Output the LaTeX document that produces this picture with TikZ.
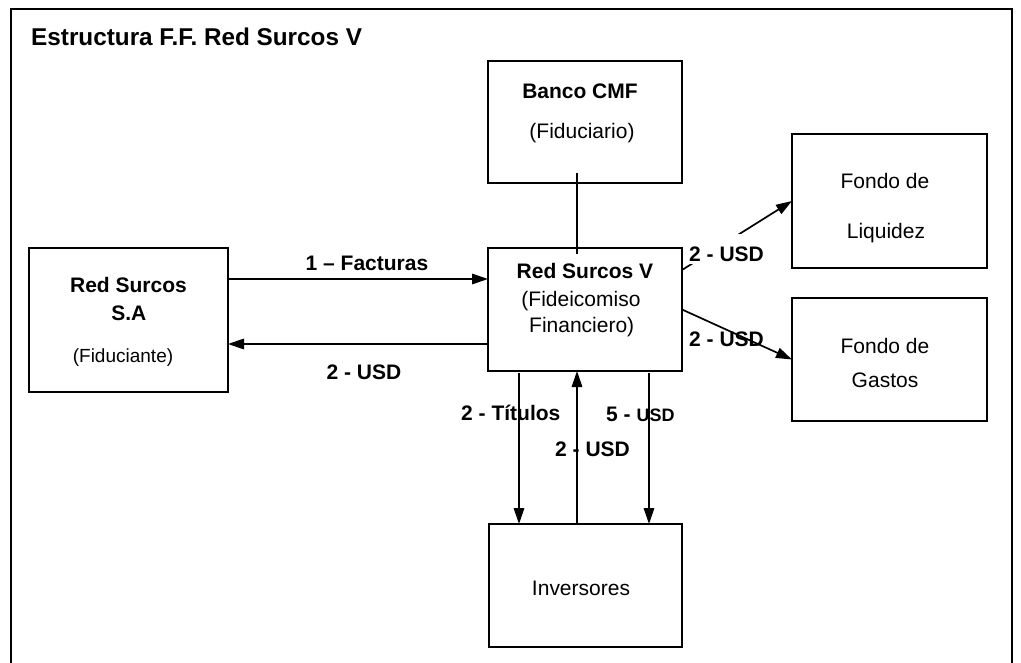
\documentclass[tikz,border=0pt]{standalone}
\usepackage{fontspec}
\setmainfont{Liberation Sans}
\usetikzlibrary{arrows.meta}
\begin{document}
\begin{tikzpicture}[x=1pt,y=-1pt,
  box/.style={draw, line width=2pt, fill=white, inner sep=0pt, outer sep=0pt},
  conn/.style={line width=1.7pt},
  arr/.style={conn, -{Triangle[length=16pt,width=10.5pt]}},
  lb/.style={font=\fontsize{21pt}{25pt}\selectfont\bfseries, inner sep=0pt},
  tx/.style={font=\fontsize{21pt}{25pt}\selectfont, inner sep=0pt},
  sm/.style={font=\fontsize{19pt}{23pt}\selectfont, inner sep=0pt},
]
\useasboundingbox (0,0) rectangle (1021,663);
% outer frame
\draw[line width=2.5pt] (11,663) -- (11,9) -- (1012,9) -- (1012,663);
\node[lb, anchor=base west, font=\fontsize{24.3pt}{28pt}\selectfont\bfseries] (title) at (31,46) {Estructura F.F. Red Surcos V};

% boxes
\node[box, minimum width=199pt, minimum height=144pt] (sa) at (128.5,320) {};
\node[box, minimum width=194pt, minimum height=122pt] (banco) at (585,122) {};
\node[box, minimum width=194pt, minimum height=123pt] (rsv) at (585,309.5) {};
\node[box, minimum width=195pt, minimum height=134pt] (liq) at (889.5,201) {};
\node[box, minimum width=195pt, minimum height=123pt] (gas) at (889.5,359.5) {};
\node[box, minimum width=193pt, minimum height=123pt] (inv) at (585.5,585.5) {};

% box texts
\node[lb, anchor=base] (saA) at (128.5,293) {Red Surcos};
\node[lb, anchor=base] (saB) at (128.8,320.5) {S.A};
\node[sm, anchor=base] (saC) at (123,362.5) {(Fiduciante)};
\node[lb, anchor=base] (bancoA) at (580,99) {Banco CMF};
\node[tx, anchor=base] (bancoB) at (582,138.5) {(Fiduciario)};
\node[lb, anchor=base] (rsvA) at (585,279) {Red Surcos V};
\node[tx, anchor=base] (rsvB) at (581,306.5) {(Fideicomiso};
\node[tx, anchor=base] (rsvC) at (581.7,333) {Financiero)};
\node[tx, anchor=base] (liqA) at (885,189) {Fondo de};
\node[tx, anchor=base] (liqB) at (886,239) {Liquidez};
\node[tx, anchor=base] (gasA) at (885,353) {Fondo de};
\node[tx, anchor=base] (gasB) at (885,387) {Gastos};
\node[tx, anchor=base] (invA) at (581,595) {Inversores};

% connectors
\draw[arr] ([yshift=41pt]sa.east) -- ([yshift=30.5pt]rsv.west);
\draw[arr] ([yshift=-34.5pt]rsv.west) -- ([yshift=-24pt]sa.east);
\draw[conn] ([xshift=-8pt,yshift=10pt]banco.south) -- ([xshift=-8pt,yshift=-6pt]rsv.north);
\draw[arr] ([yshift=39.5pt]rsv.east) -- (liq.west);
\draw[arr] (rsv.east) -- (gas.west);
\draw[arr] ([xshift=-66pt,yshift=-2pt]rsv.south) -- ([xshift=-66.5pt]inv.north);
\draw[arr] ([xshift=-8.5pt]inv.north) -- ([xshift=-8pt]rsv.south);
\draw[arr] ([xshift=64pt,yshift=-2pt]rsv.south) -- ([xshift=63.5pt]inv.north);

% connector labels
\node[lb, anchor=base] (lFact) at (367,270.7) {1 – Facturas};
\node[lb, anchor=base] (lUsdSa) at (364,379) {2 - USD};
\node[lb, anchor=base west, fill=white, text height=28pt, text depth=2pt, inner xsep=2pt] (lUsdLiq) at (687,262) {2 - USD};
\node[lb, anchor=base west] (lUsdGas) at (689,346.7) {2 - USD};
\node[lb, anchor=base west] (lTit) at (461,420) {2 - Títulos};
\node[lb, anchor=base west] (lUsd5) at (606,421) {5 - {\fontsize{18pt}{20pt}\selectfont USD}};
\node[lb, anchor=base west] (lUsdInv) at (555,456) {2 - USD};
\end{tikzpicture}
\end{document}
